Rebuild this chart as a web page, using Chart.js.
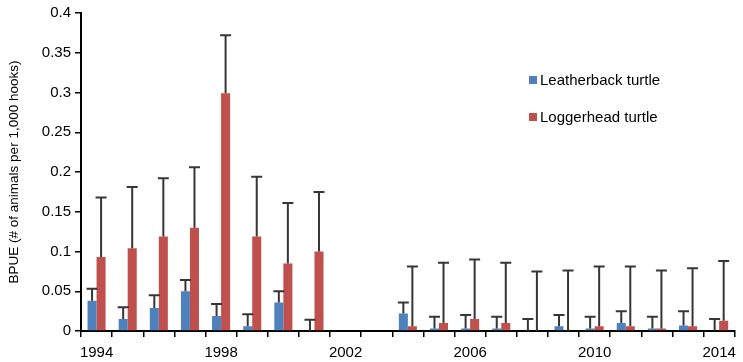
<!DOCTYPE html>
<html>
<head>
<meta charset="utf-8">
<script src="https://cdn.jsdelivr.net/npm/chart.js@4.4.1/dist/chart.umd.min.js"></script>
<style>
  html, body { margin: 0; padding: 0; background: #fff; }
  #wrap { width: 743px; height: 362px; }
</style>
</head>
<body>
<div id="wrap"><canvas id="chart" width="743" height="362"></canvas></div>
<script>
/* DATA */
const years = ["1994","1995","1996","1997","1998","1999","2000","2001","2002","2003","2004",
  "2005","2006","2007","2008","2009","2010","2011","2012","2013","2014"];

const leatherback = [0.038, 0.015, 0.029, 0.050, 0.019, 0.006, 0.036, 0, null, null, 0.022,
  0.003, 0.003, 0.003, 0, 0.006, 0.003, 0.010, 0.003, 0.007, 0];
const leatherbackHi = [0.053, 0.030, 0.045, 0.064, 0.034, 0.021, 0.050, 0.014, null, null, 0.036,
  0.018, 0.020, 0.018, 0.015, 0.020, 0.018, 0.025, 0.018, 0.025, 0.015];

const loggerhead = [0.093, 0.104, 0.119, 0.130, 0.299, 0.119, 0.085, 0.100, null, null, 0.006,
  0.010, 0.015, 0.010, 0, 0, 0.006, 0.006, 0.003, 0.006, 0.013];
const loggerheadHi = [0.168, 0.181, 0.192, 0.206, 0.372, 0.194, 0.161, 0.175, null, null, 0.081,
  0.086, 0.090, 0.086, 0.075, 0.076, 0.081, 0.081, 0.076, 0.079, 0.088];

const yTicks = [0, 0.05, 0.1, 0.15, 0.2, 0.25, 0.3, 0.35, 0.4];
const labelEvery = 4;

const BLUE = "#4F81BD";
const RED = "#C0504D";
const FONT = "'Liberation Sans', Arial, sans-serif";

/* ERROR BARS (upper only) */
const errorBars = {
  id: "errorBars",
  afterDatasetsDraw(chart) {
    const ctx = chart.ctx;
    const y = chart.scales.y;
    ctx.save();
    ctx.strokeStyle = "#363636";
    ctx.lineWidth = 2;
    chart.data.datasets.forEach((ds, i) => {
      const meta = chart.getDatasetMeta(i);
      meta.data.forEach((bar, j) => {
        const hi = ds.upper[j];
        if (hi == null) return;
        const top = y.getPixelForValue(hi);
        const base = y.getPixelForValue(ds.data[j] || 0);
        ctx.beginPath();
        ctx.moveTo(bar.x, base);
        ctx.lineTo(bar.x, top);
        ctx.moveTo(bar.x - 5.5, top);
        ctx.lineTo(bar.x + 5.5, top);
        ctx.stroke();
      });
    });
    ctx.restore();
  }
};

/* LEGEND (vertical, inside plot) */
const sideLegend = {
  id: "sideLegend",
  afterDraw(chart) {
    const ctx = chart.ctx;
    const x = 529, rows = [80, 117];
    ctx.save();
    ctx.font = "15px " + FONT;
    ctx.textBaseline = "middle";
    chart.data.datasets.forEach((ds, i) => {
      ctx.fillStyle = ds.backgroundColor;
      ctx.fillRect(x, rows[i] - 4, 8, 8);
      ctx.fillStyle = "#000";
      ctx.fillText(ds.label, x + 11, rows[i] + 1);
    });
    ctx.restore();
  }
};

new Chart(document.getElementById("chart"), {
  type: "bar",
  data: {
    labels: years,
    datasets: [
      { label: "Leatherback turtle", data: leatherback, upper: leatherbackHi, backgroundColor: BLUE },
      { label: "Loggerhead turtle", data: loggerhead, upper: loggerheadHi, backgroundColor: RED }
    ]
  },
  options: {
    responsive: false,
    animation: false,
    layout: { padding: { top: 8, right: 6, left: 0, bottom: 0 } },
    datasets: { bar: { categoryPercentage: 0.58, barPercentage: 1.0 } },
    plugins: {
      legend: { display: false },
      tooltip: { enabled: false }
    },
    scales: {
      x: {
        offset: true,
        afterFit: s => { s.height = 31; },
        grid: { offset: true, drawOnChartArea: false, drawTicks: true, tickLength: 6, color: "#000", lineWidth: 1.5 },
        border: { display: true, color: "#000", width: 2 },
        ticks: {
          autoSkip: false,
          maxRotation: 0,
          padding: 7,
          color: "#000",
          font: { family: FONT, size: 15 },
          callback: function (v, i) {
            return i % labelEvery === 0 ? years[i] : "";
          }
        }
      },
      y: {
        min: 0,
        max: 0.4,
        afterFit: s => { s.width = 81; },
        afterBuildTicks: s => { s.ticks = yTicks.map(v => ({ value: v })); },
        grid: { drawOnChartArea: false, drawTicks: true, tickLength: 6, color: "#000", lineWidth: 1.5 },
        border: { display: true, color: "#000", width: 2 },
        ticks: {
          padding: 4,
          color: "#000",
          font: { family: FONT, size: 15 },
          callback: v => String(v)
        },
        title: {
          display: true,
          text: "BPUE (# of animals per 1,000 hooks)",
          color: "#000",
          font: { family: FONT, size: 13.5 },
          padding: { top: 6, bottom: 0 }
        }
      }
    }
  },
  plugins: [errorBars, sideLegend]
});
</script>
</body>
</html>
